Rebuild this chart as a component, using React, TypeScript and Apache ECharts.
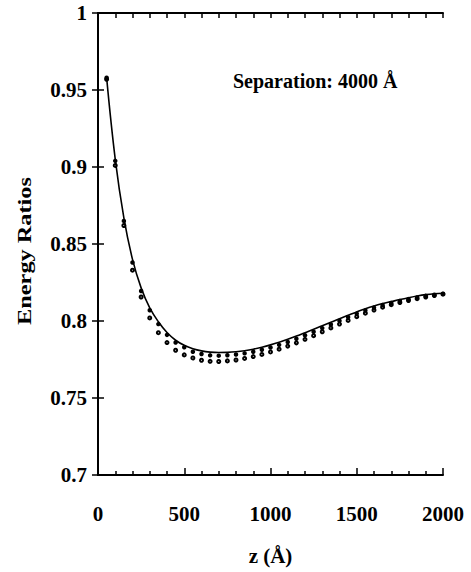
import React, { useEffect, useRef } from "react";
import * as echarts from "echarts";

const zValues = [
  50, 100, 150, 200, 250, 300, 350, 400, 450, 500,
  550, 600, 650, 700, 750, 800, 850, 900, 950, 1000,
  1050, 1100, 1150, 1200, 1250, 1300, 1350, 1400, 1450, 1500,
  1550, 1600, 1650, 1700, 1750, 1800, 1850, 1900, 1950, 2000,
];

const lineValues = [
  0.958, 0.905, 0.867, 0.840, 0.8215, 0.8085, 0.7995, 0.7925, 0.7875, 0.7842,
  0.782, 0.7806, 0.7798, 0.7795, 0.7796, 0.78, 0.7807, 0.7817, 0.783, 0.7845,
  0.7862, 0.7881, 0.7902, 0.7924, 0.7946, 0.7969, 0.7992, 0.8015, 0.8037, 0.8059,
  0.808, 0.8098, 0.8113, 0.8126, 0.8139, 0.8151, 0.8162, 0.8171, 0.8177, 0.818,
];

const filledValues = [
  0.958, 0.904, 0.865, 0.838, 0.8195, 0.807, 0.798, 0.791, 0.786, 0.783,
  0.78, 0.7786, 0.7777, 0.7775, 0.7778, 0.7782, 0.779, 0.78, 0.7813, 0.7828,
  0.7845, 0.7864, 0.7885, 0.7907, 0.793, 0.7954, 0.7978, 0.8002, 0.8025, 0.8048,
  0.8069, 0.8087, 0.8103, 0.8117, 0.813, 0.8142, 0.8153, 0.8163, 0.817, 0.8177,
];

const openValues = [
  0.957, 0.901, 0.862, 0.833, 0.8156, 0.802, 0.7924, 0.786, 0.781, 0.778,
  0.776, 0.7745, 0.7738, 0.7737, 0.7741, 0.7747, 0.7757, 0.7769, 0.7783, 0.7799,
  0.7817, 0.7837, 0.7858, 0.7881, 0.7905, 0.793, 0.7955, 0.798, 0.8004, 0.8028,
  0.8051, 0.8071, 0.809, 0.8106, 0.812, 0.8133, 0.8145, 0.8156, 0.8165, 0.8174,
];

const yTickLabels = ["0.7", "0.75", "0.8", "0.85", "0.9", "0.95", "1"];
const xTickLabels = ["0", "500", "1000", "1500", "2000"];

const FONT = "'Liberation Serif', 'DejaVu Serif', serif";

export default function App() {
  const ref = useRef<HTMLDivElement>(null);
  useEffect(() => {
    if (!ref.current) return;
    const chart = echarts.init(ref.current, null, { renderer: "svg" });
    const pair = (vals: number[]) => zValues.map((z, i) => [z, vals[i]]);
    const axisLine = { show: true, lineStyle: { color: "#000", width: 2 } };
    chart.setOption({
      animation: false,
      backgroundColor: "#fff",
      grid: { left: 98, right: 28, top: 13, bottom: 97, containLabel: false },
      xAxis: [
        {
          type: "value",
          position: "bottom",
          min: 0,
          max: 2000,
          interval: 500,
          axisLine,
          axisTick: { show: true, inside: true, length: 7, lineStyle: { color: "#000", width: 1.5 } },
          minorTick: { show: true, splitNumber: 5, length: 4, lineStyle: { color: "#000", width: 1.5 } },
          splitLine: { show: false },
          axisLabel: {
            margin: 28,
            color: "#000",
            fontFamily: FONT,
            fontWeight: "bold",
            fontSize: 21,
            formatter: (v: number) => xTickLabels[Math.round(v / 500)] ?? "",
          },
          name: "z (Å)",
          nameLocation: "middle",
          nameGap: 70,
          nameTextStyle: { color: "#000", fontFamily: FONT, fontWeight: "bold", fontSize: 21 },
        },
        {
          type: "value",
          position: "top",
          min: 0,
          max: 2000,
          interval: 100,
          axisLine,
          axisTick: { show: true, inside: true, length: 5, lineStyle: { color: "#000", width: 1.5 } },
          splitLine: { show: false },
          axisLabel: { show: false },
        },
      ],
      yAxis: [
        {
          type: "value",
          position: "left",
          min: 0.7,
          max: 1,
          interval: 0.05,
          axisLine,
          axisTick: { show: true, inside: true, length: 6, lineStyle: { color: "#000", width: 1.5 } },
          splitLine: { show: false },
          axisLabel: {
            margin: 11,
            color: "#000",
            fontFamily: FONT,
            fontWeight: "bold",
            fontSize: 21,
            formatter: (v: number) => yTickLabels[Math.round((v - 0.7) / 0.05)] ?? "",
          },
        },
        {
          type: "value",
          position: "right",
          min: 0.7,
          max: 1,
          interval: 0.05,
          axisLine,
          axisTick: { show: true, inside: true, length: 6, lineStyle: { color: "#000", width: 1.5 } },
          splitLine: { show: false },
          axisLabel: { show: false },
        },
      ],
      graphic: [
        {
          type: "text",
          left: 233,
          top: 71,
          style: {
            text: "Separation: 4000 Å",
            fill: "#000",
            font: `bold 20px ${FONT}`,
          },
        },
        {
          type: "text",
          x: 25,
          y: 251,
          rotation: Math.PI / 2,
          scaleX: 1.28,
          style: {
            text: "Energy Ratios",
            fill: "#000",
            font: `bold 19px ${FONT}`,
            textAlign: "center",
            textVerticalAlign: "middle",
          },
        },
      ],
      series: [
        {
          type: "scatter",
          data: pair(openValues),
          symbol: "emptyCircle",
          symbolSize: 3,
          itemStyle: { color: "#000", borderColor: "#000", borderWidth: 1, opacity: 1 },
          z: 2,
        },
        {
          type: "scatter",
          data: pair(filledValues),
          symbol: "circle",
          symbolSize: 4.5,
          itemStyle: { color: "#000", opacity: 1 },
          z: 3,
        },
        {
          type: "line",
          data: pair(lineValues),
          smooth: 0.4,
          showSymbol: false,
          lineStyle: { color: "#000", width: 1.6 },
          z: 4,
        },
      ],
    });
    return () => chart.dispose();
  }, []);
  return (
    <div
      ref={ref}
      style={{ position: "absolute", left: 0, top: 0, width: 471, height: 572 }}
    />
  );
}
